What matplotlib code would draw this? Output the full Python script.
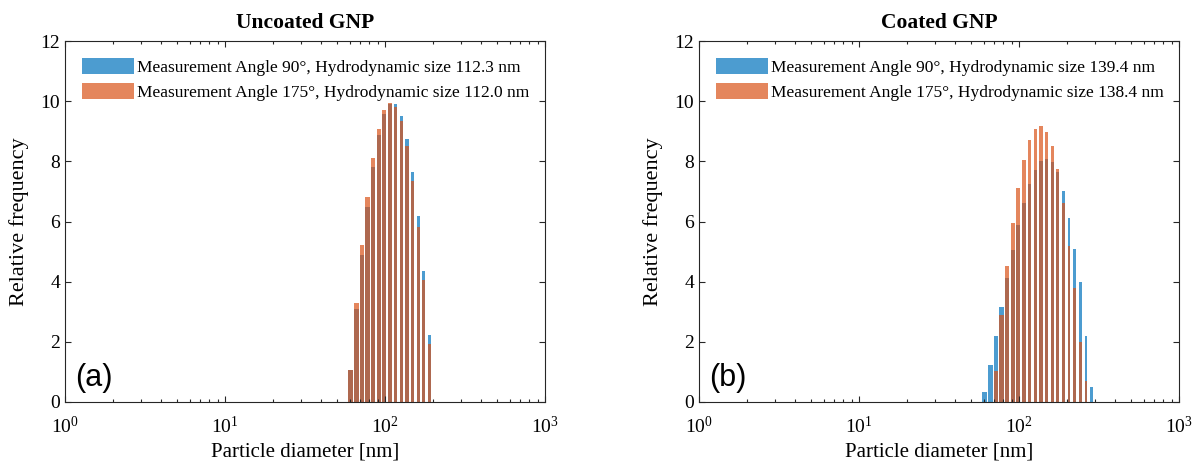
import numpy as np
import matplotlib
matplotlib.use('Agg')
import matplotlib.pyplot as plt
import matplotlib.ticker as ticker

plt.rcParams['font.family'] = ['Liberation Serif', 'DejaVu Serif']
plt.rcParams['mathtext.fontset'] = 'custom'
plt.rcParams['mathtext.rm'] = 'Liberation Serif'
plt.rcParams['mathtext.it'] = 'Liberation Serif:italic'

# particle size bins [nm], shared by both panels
diam = [61.0, 66.1, 71.7, 77.8, 84.4, 91.5, 99.2, 107.5, 116.6, 126.4,
        137.1, 148.6, 161.2, 174.8, 189.5, 205.5, 222.8, 241.6, 262.0, 284.1]

# (a) uncoated GNP
unc_90 = [1.08, 3.08, 4.89, 6.48, 7.81, 8.86, 9.56, 9.91, 9.89, 9.50,
          8.74, 7.63, 6.17, 4.36, 2.24]
unc_175 = [1.08, 3.28, 5.22, 6.83, 8.11, 9.09, 9.70, 9.94, 9.81, 9.34,
           8.52, 7.36, 5.83, 4.06, 1.94]

# (b) coated GNP
coat_90 = [0.33, 1.24, 2.19, 3.15, 4.11, 5.06, 5.89, 6.61, 7.24, 7.72,
           8.00, 8.08, 7.97, 7.63, 7.00, 6.10, 5.10, 4.00, 2.20, 0.50]
coat_175 = [0.0, 0.0, 1.03, 2.88, 4.52, 5.94, 7.11, 8.06, 8.70, 9.08,
            9.19, 8.97, 8.50, 7.75, 6.60, 5.20, 3.80, 2.00, 0.70, 0.0]

titles = ['Uncoated GNP', 'Coated GNP']
tags = ['(a)', '(b)']
labels_a = ['Measurement Angle 90°, Hydrodynamic size 112.3 nm',
            'Measurement Angle 175°, Hydrodynamic size 112.0 nm']
labels_b = ['Measurement Angle 90°, Hydrodynamic size 139.4 nm',
            'Measurement Angle 175°, Hydrodynamic size 138.4 nm']

blue = (0.0, 0.447, 0.741)
orange = (0.85, 0.325, 0.098)
axcol = '#262626'

fig = plt.figure(figsize=(11.95, 4.62), dpi=100)
ax1 = fig.add_axes([65 / 1195, 60 / 462, 480 / 1195, 361 / 462])
ax2 = fig.add_axes([699 / 1195, 60 / 462, 480 / 1195, 361 / 462])

panels = [(ax1, unc_90, unc_175, labels_a), (ax2, coat_90, coat_175, labels_b)]
for i, (ax, y90, y175, labs) in enumerate(panels):
    x = np.array(diam[:len(y90)])
    w = 0.55 * np.sqrt(x)   # bar width in nm, looks like the original on log axis
    ax.bar(x, y90, width=w, color=blue, alpha=0.7, linewidth=0, label=labs[0])
    ax.bar(x, y175, width=w, color=orange, alpha=0.7, linewidth=0, label=labs[1])

    ax.set_xscale('log')
    ax.set_xlim(1, 1000)
    ax.set_ylim(0, 12)
    ax.set_yticks(range(0, 13, 2))
    ax.xaxis.set_major_locator(ticker.LogLocator(base=10, numticks=5))
    ax.xaxis.set_minor_locator(ticker.LogLocator(base=10, subs=np.arange(2, 10), numticks=20))
    ax.xaxis.set_minor_formatter(ticker.NullFormatter())

    ax.tick_params(which='both', direction='in', top=True, right=True,
                   colors=axcol, labelcolor='black', labelsize=14, width=0.8)
    ax.tick_params(which='major', length=4.5)
    ax.tick_params(which='minor', length=2.5)
    ax.tick_params(axis='x', pad=10)
    for s in ax.spines.values():
        s.set_color(axcol)
        s.set_linewidth(0.8)

    ax.set_title(titles[i], fontsize=15.5, fontweight='bold', pad=9)
    ax.set_xlabel('Particle diameter [nm]', fontsize=15, labelpad=4)
    ax.set_ylabel('Relative frequency', fontsize=16, labelpad=8)

    ax.text(0.022, 0.045, tags[i], transform=ax.transAxes, fontsize=22,
            family=['Liberation Sans', 'DejaVu Sans'])

    ax.legend(loc='upper left', frameon=False, fontsize=12.5,
              handlelength=3.0, handleheight=1.05, handletextpad=0.15,
              labelspacing=0.36, borderaxespad=0.6, borderpad=0.4)

fig.savefig('out.png', dpi=100)
